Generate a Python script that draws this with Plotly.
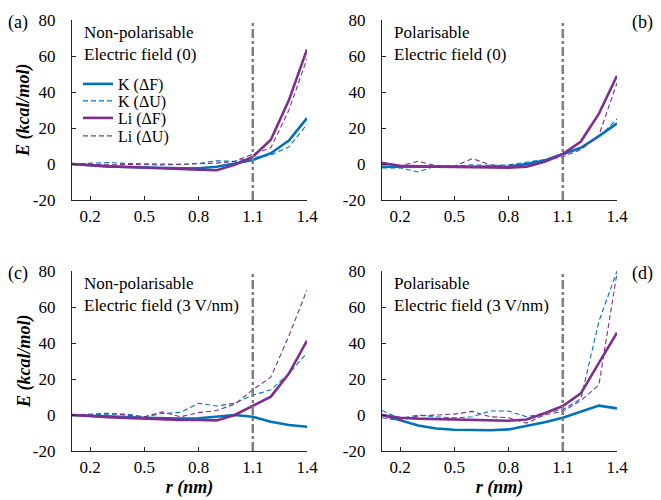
import plotly.graph_objects as go
from plotly.subplots import make_subplots

r = [0.1, 0.2, 0.3, 0.4, 0.5, 0.6, 0.7, 0.8, 0.9, 1.0, 1.1, 1.2, 1.3, 1.4]

# Panel (a): Non-polarisable, field 0
K_F_a = [0, -0.8, -1.3, -1.7, -2.0, -2.2, -2.4, -2.4, -1.5, 0.3, 2.2, 6, 13, 25.5]
K_U_a = [0, 0.5, 0.8, 0.3, 0, 0, -0.2, 0.3, 1.8, 1.5, 3.5, 5, 9.5, 22]
Li_F_a = [0, -0.8, -1.3, -1.7, -2.2, -2.5, -2.8, -3.2, -3.5, -0.5, 4, 13.5, 35.5, 63.7]
Li_U_a = [0, -0.3, -0.5, -0.3, -0.5, -0.5, -0.2, 0, 0.5, 1.5, 5.5, 9, 30, 58.5]

# Panel (b): Polarisable, field 0
K_F_b = [-1.5, -1.5, -1.5, -1.6, -1.7, -1.7, -1.6, -1.4, 0, 2, 5.5, 9, 15.5, 22.6]
K_U_b = [-2.2, -2.2, -4.4, -1, -1, -0.5, -0.8, -0.5, 1, 2.5, 5, 9, 15, 25]
Li_F_b = [0.5, -1, -1.3, -1.5, -1.7, -1.7, -1.8, -2, -1.5, 1.3, 5.5, 12.5, 28, 49]
Li_U_b = [1, -1, 1.5, -1, -1.2, 3, -0.5, -1.5, -1, 2, 4, 8, 16, 45]

# Panel (c): Non-polarisable, field 3 V/nm
K_F_c = [0, -0.5, -0.8, -1.2, -1.5, -1.8, -2, -1.8, -1, 0, -1, -3.7, -5.6, -6.5]
K_U_c = [0, 0, 0.5, 0.5, -1, 0.8, 1.5, 6.5, 5, 6.5, 11, 14, 23, 34.6]
Li_F_c = [0, -0.7, -1.2, -1.6, -2, -2.5, -2.7, -2.8, -3, 0, 5, 10.2, 23, 41.3]
Li_U_c = [0, 0.5, 1, 0, -1, 1.7, -1, 1.3, 2.5, 6, 14, 21, 44, 69.5]

# Panel (d): Polarisable, field 3 V/nm
K_F_d = [0, -3, -5.8, -7.5, -8.2, -8.3, -8.5, -8, -6.2, -4, -1.5, 1.9, 5.2, 3.7]
K_U_d = [2.5, -2, 0, -1, -1.5, -1, 2.2, 2.2, -1, 1, 3, 9, 52, 80]
Li_F_d = [0, -1.5, -2, -2.3, -2.5, -2.6, -2.8, -3.2, -2.5, 1, 5, 12, 29, 45.7]
Li_U_d = [-1.5, -3, -0.5, 0, 0.5, 2, -1, -1.5, -4.5, 0, 2, 8, 16.7, 79]

x_ticks = [0.2, 0.5, 0.8, 1.1, 1.4]
x_ticktext = ["0.2", "0.5", "0.8", "1.1", "1.4"]
y_ticks = [-20, 0, 20, 40, 60, 80]
y_ticktext = ["-20", "0", "20", "40", "60", "80"]
boundary = 1.1

panel_titles = [
    "Non-polarisable<br>Electric field (0)",
    "Polarisable<br>Electric field (0)",
    "Non-polarisable<br>Electric field (3 V/nm)",
    "Polarisable<br>Electric field (3 V/nm)",
]
panel_letters = ["(a)", "(b)", "(c)", "(d)"]
series_names = ["K (ΔF)", "K (ΔU)", "Li (ΔF)", "Li (ΔU)"]

BLUE = "#0072BD"
PURPLE = "#7E2F8E"
FONT = "Liberation Serif"
W, H = 661, 500

fig = make_subplots(rows=2, cols=2)

panels = [
    (1, 1, [K_F_a, K_U_a, Li_F_a, Li_U_a]),
    (1, 2, [K_F_b, K_U_b, Li_F_b, Li_U_b]),
    (2, 1, [K_F_c, K_U_c, Li_F_c, Li_U_c]),
    (2, 2, [K_F_d, K_U_d, Li_F_d, Li_U_d]),
]
styles = [
    dict(color=BLUE, width=2.6, dash="solid"),
    dict(color=BLUE, width=1.1, dash="5px,3px"),
    dict(color=PURPLE, width=2.6, dash="solid"),
    dict(color=PURPLE, width=1.1, dash="5px,3px"),
]
legend_ids = ["legend", "legend2", "legend3", "legend4"]

for i, (row, col, series) in enumerate(panels):
    for j, ys in enumerate(series):
        fig.add_trace(
            go.Scatter(
                x=r, y=ys, mode="lines", name=series_names[j],
                line=styles[j], showlegend=(i == 0), legend=legend_ids[j],
            ),
            row=row, col=col,
        )
    fig.add_vline(x=boundary, line=dict(color="#7f7f7f", width=2.5, dash="dashdot"),
                  row=row, col=col)

# pixel-based domains
xdom = [(72, 307), (382, 617)]
ydom = [(20, 200), (271, 451)]

axis_common = dict(
    showgrid=False, zeroline=False, showline=True, linecolor="#262626", linewidth=1.3,
    ticks="inside", ticklen=4, tickcolor="#262626", tickwidth=1.2, automargin=False,
    tickfont=dict(family=FONT, size=17, color="black"), mirror=False,
)

for i in range(4):
    row, col = i // 2, i % 2
    idx = "" if i == 0 else str(i + 1)
    x0, x1 = xdom[col]
    y0, y1 = ydom[row]
    fig.layout["xaxis" + idx].update(
        domain=[x0 / W, x1 / W], range=[0.1, 1.4],
        tickvals=x_ticks, ticktext=x_ticktext, ticklabelstandoff=0, **axis_common,
    )
    fig.layout["yaxis" + idx].update(
        domain=[1 - y1 / H, 1 - y0 / H], range=[-20, 80],
        tickvals=y_ticks, ticktext=y_ticktext, ticklabelstandoff=12, **axis_common,
    )
    if row == 1:
        fig.layout["xaxis" + idx].title = dict(
            text="<b><i>r (nm)</i></b>", font=dict(family=FONT, size=18, color="black"),
            standoff=4)
    if col == 0:
        fig.add_annotation(
            x=24 / W, y=1 - ((y0 + y1) / 2) / H, xref="paper", yref="paper",
            xanchor="center", yanchor="middle", showarrow=False, textangle=-90,
            text="<b><i>E (kcal/mol)</i></b>",
            font=dict(family=FONT, size=18, color="black"),
        )
    fig.add_annotation(
        x=(x0 + 10) / W, y=1 - (y0 + 1) / H, xref="paper", yref="paper",
        xanchor="left", yanchor="top", align="left", showarrow=False,
        text=panel_titles[i], font=dict(family=FONT, size=17, color="black"),
    )
    lx = 18 if col == 0 else 642
    fig.add_annotation(
        x=lx / W, y=1 - (y0 + 2) / H, xref="paper", yref="paper",
        xanchor="center", yanchor="middle", showarrow=False,
        text=panel_letters[i], font=dict(family=FONT, size=18, color="black"),
    )

legend_y = [84, 101, 118, 136]
legend_layout = {}
for j, lid in enumerate(legend_ids):
    legend_layout[lid] = dict(
        x=78 / W, y=1 - legend_y[j] / H, xanchor="left", yanchor="middle",
        bgcolor="rgba(0,0,0,0)", font=dict(family=FONT, size=16, color="black"),
        itemwidth=30,
    )

fig.update_layout(
    width=W, height=H,
    margin=dict(l=0, r=0, t=0, b=0, autoexpand=False),
    paper_bgcolor="white", plot_bgcolor="white",
    font=dict(family=FONT, color="black"),
    **legend_layout,
)

fig.write_html(
    "out.html",
    config={"displayModeBar": False},
    post_script="document.body.style.margin='0';document.body.style.padding='0';",
)
